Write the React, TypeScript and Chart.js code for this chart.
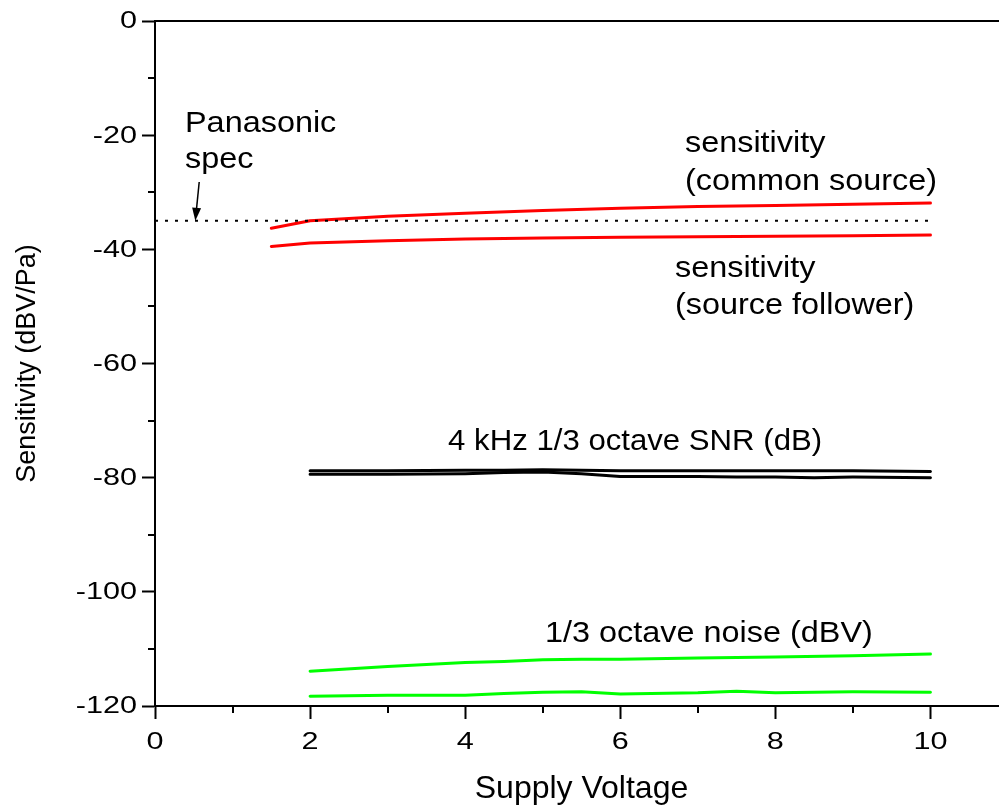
import React, { useEffect, useRef } from "react";
import { Chart, registerables } from "chart.js";

Chart.register(...registerables);

const FONT = "'Liberation Sans', Arial, Helvetica, sans-serif";

const xTitle = "Supply Voltage";
const yTitle = "Sensitivity (dBV/Pa)";

// Sensitivity, common source
const voltsCommonSource = [1.5, 2, 2.5, 3, 4, 5, 6, 7, 8, 9, 10];
const sensCommonSource = [-36.3, -35.0, -34.6, -34.2, -33.7, -33.2, -32.8, -32.5, -32.3, -32.1, -31.9];

// Sensitivity, source follower
const voltsSourceFollower = [1.5, 2, 3, 4, 5, 6, 7, 8, 9, 10];
const sensSourceFollower = [-39.5, -38.9, -38.5, -38.2, -38.0, -37.9, -37.8, -37.7, -37.6, -37.5];

// 4 kHz 1/3 octave SNR (dB)
const voltsSnr = [2, 3, 4, 4.5, 5, 5.5, 6, 7, 7.5, 8, 8.5, 9, 10];
const snrUpper = [-78.8, -78.8, -78.7, -78.7, -78.6, -78.7, -78.8, -78.8, -78.8, -78.8, -78.8, -78.8, -78.9];
const snrLower = [-79.4, -79.4, -79.3, -79.1, -79.0, -79.3, -79.8, -79.8, -79.9, -79.9, -80.0, -79.9, -80.0];

// 1/3 octave noise (dBV)
const voltsNoise = [2, 3, 4, 4.5, 5, 5.5, 6, 7, 7.5, 8, 9, 10];
const noiseUpper = [-113.9, -113.1, -112.4, -112.2, -111.9, -111.8, -111.8, -111.6, -111.5, -111.4, -111.2, -110.9];
const noiseLower = [-118.3, -118.1, -118.1, -117.8, -117.6, -117.5, -117.9, -117.7, -117.4, -117.7, -117.5, -117.6];

// Panasonic spec line
const specVolts = [0, 10];
const specLevel = [-35, -35];

// Minor tick values
const xMinorTicks = [1, 3, 5, 7, 9, 11];
const yMinorTicks = [-10, -30, -50, -70, -90, -110];

// Annotation texts
const annotations = [
  { text: "Panasonic", x: 0.387, y: -19.45 },
  { text: "spec", x: 0.387, y: -25.8 },
  { text: "sensitivity", x: 6.834, y: -22.95 },
  { text: "(common source)", x: 6.834, y: -29.6 },
  { text: "sensitivity", x: 6.705, y: -44.85 },
  { text: "(source follower)", x: 6.705, y: -51.3 },
  { text: "4 kHz 1/3 octave SNR (dB)", x: 3.78, y: -75.2, maxW: 374 },
  { text: "1/3 octave noise (dBV)", x: 5.03, y: -108.8 },
];
const arrowFrom = { x: 0.57, y: -28.2 };
const arrowTo = { x: 0.52, y: -35.0 };

const pts = (xs: number[], ys: number[]) => xs.map((x, i) => ({ x, y: ys[i] }));

const TICK_FONT = `23px ${FONT}`;
const TICK_STRETCH = 1.33;
const NOTE_FONT = `30px ${FONT}`;
const NOTE_STRETCH = 1.08;

const decorPlugin = {
  id: "decor",
  afterDatasetsDraw(chart: any) {
    const { ctx, chartArea: a, scales } = chart;
    const x = scales.x;
    const y = scales.y;
    ctx.save();
    ctx.strokeStyle = "#000";
    ctx.lineWidth = 2;
    ctx.lineCap = "butt";
    ctx.beginPath();
    ctx.moveTo(a.left, a.top);
    ctx.lineTo(a.right, a.top);
    ctx.lineTo(a.right, a.bottom);
    ctx.stroke();
    for (const v of xMinorTicks) {
      const px = Math.round(x.getPixelForValue(v));
      ctx.beginPath();
      ctx.moveTo(px, a.bottom);
      ctx.lineTo(px, a.bottom + 7);
      ctx.stroke();
    }
    for (const v of yMinorTicks) {
      const py = Math.round(y.getPixelForValue(v));
      ctx.beginPath();
      ctx.moveTo(a.left - 7, py);
      ctx.lineTo(a.left, py);
      ctx.stroke();
    }
    // arrow
    const x0 = x.getPixelForValue(arrowFrom.x);
    const y0 = y.getPixelForValue(arrowFrom.y);
    const x1 = x.getPixelForValue(arrowTo.x);
    const y1 = y.getPixelForValue(arrowTo.y);
    const ang = Math.atan2(y1 - y0, x1 - x0);
    const hl = 13;
    const hw = 4.5;
    ctx.lineWidth = 1.5;
    ctx.beginPath();
    ctx.moveTo(x0, y0);
    ctx.lineTo(x1 - Math.cos(ang) * hl * 0.8, y1 - Math.sin(ang) * hl * 0.8);
    ctx.stroke();
    ctx.fillStyle = "#000";
    ctx.beginPath();
    ctx.moveTo(x1, y1);
    ctx.lineTo(x1 - Math.cos(ang) * hl - Math.sin(ang) * hw, y1 - Math.sin(ang) * hl + Math.cos(ang) * hw);
    ctx.lineTo(x1 - Math.cos(ang) * hl + Math.sin(ang) * hw, y1 - Math.sin(ang) * hl - Math.cos(ang) * hw);
    ctx.closePath();
    ctx.fill();

    // annotation texts
    ctx.font = NOTE_FONT;
    ctx.textAlign = "left";
    ctx.textBaseline = "alphabetic";
    for (const an of annotations as any[]) {
      ctx.save();
      ctx.translate(x.getPixelForValue(an.x), y.getPixelForValue(an.y));
      ctx.scale(NOTE_STRETCH, 1);
      if (an.maxW) ctx.fillText(an.text, 0, 0, an.maxW / NOTE_STRETCH);
      else ctx.fillText(an.text, 0, 0);
      ctx.restore();
    }

    // tick labels (wide lettering like the reference)
    ctx.font = TICK_FONT;
    ctx.textAlign = "right";
    ctx.textBaseline = "middle";
    for (const t of y.ticks) {
      ctx.save();
      ctx.translate(a.left - 18, y.getPixelForValue(t.value) + 1);
      ctx.scale(TICK_STRETCH, 1);
      ctx.fillText(t.label, 0, 0);
      ctx.restore();
    }
    ctx.textAlign = "center";
    for (const t of x.ticks) {
      ctx.save();
      ctx.translate(x.getPixelForValue(t.value), a.bottom + 37);
      ctx.scale(TICK_STRETCH, 1);
      ctx.fillText(t.label, 0, 0);
      ctx.restore();
    }
    ctx.restore();
  },
};

export default function App() {
  const ref = useRef<HTMLCanvasElement | null>(null);
  useEffect(() => {
    if (!ref.current) return;
    const line = (data: any, color: string, extra: any = {}) => ({
      data,
      borderColor: color,
      backgroundColor: color,
      borderWidth: 3,
      pointRadius: 0,
      tension: 0,
      fill: false,
      borderCapStyle: "round",
      borderJoinStyle: "round",
      ...extra,
    });
    const chart = new Chart(ref.current, {
      type: "line",
      data: {
        datasets: [
          line(pts(specVolts, specLevel), "#000000", { borderWidth: 2, borderDash: [3, 7], borderCapStyle: "butt" }),
          line(pts(voltsCommonSource, sensCommonSource), "#ff0000"),
          line(pts(voltsSourceFollower, sensSourceFollower), "#ff0000"),
          line(pts(voltsSnr, snrUpper), "#000000"),
          line(pts(voltsSnr, snrLower), "#000000"),
          line(pts(voltsNoise, noiseUpper), "#00ff00"),
          line(pts(voltsNoise, noiseLower), "#00ff00"),
        ],
      },
      options: {
        responsive: false,
        animation: false,
        devicePixelRatio: 1,
        layout: { padding: { top: 21, right: 7, left: 0, bottom: 0 } },
        plugins: { legend: { display: false }, tooltip: { enabled: false } },
        scales: {
          x: {
            type: "linear",
            min: 0,
            max: 11,
            afterFit: (s: any) => {
              s.height = 102;
            },
            ticks: {
              stepSize: 2,
              includeBounds: false,
              color: "rgba(0,0,0,0)",
              font: { family: FONT, size: 22 },
              padding: 10,
              maxRotation: 0,
              autoSkip: false,
            },
            grid: {
              display: true,
              drawOnChartArea: false,
              drawTicks: true,
              tickLength: 13,
              tickWidth: 2,
              tickColor: "#000",
            },
            border: { display: true, color: "#000", width: 2 },
            title: {
              display: true,
              text: xTitle,
              color: "#000",
              font: { family: FONT, size: 32 },
              padding: { top: 0, bottom: 0 },
            },
          },
          y: {
            type: "linear",
            min: -120,
            max: 0,
            afterFit: (s: any) => {
              s.width = 155;
            },
            ticks: {
              stepSize: 20,
              color: "rgba(0,0,0,0)",
              font: { family: FONT, size: 22 },
              padding: 5,
            },
            grid: {
              display: true,
              drawOnChartArea: false,
              drawTicks: true,
              tickLength: 13,
              tickWidth: 2,
              tickColor: "#000",
            },
            border: { display: true, color: "#000", width: 2 },
            title: {
              display: true,
              text: yTitle,
              color: "#000",
              font: { family: FONT, size: 27 },
              padding: { top: 11, bottom: 0 },
            },
          },
        },
      },
      plugins: [decorPlugin],
    } as any);
    return () => chart.destroy();
  }, []);
  return (
    <div
      style={{
        position: "fixed",
        left: 0,
        top: 0,
        width: 999,
        height: 808,
        overflow: "hidden",
        background: "#fff",
      }}
    >
      <canvas ref={ref} width={1015} height={808} style={{ display: "block" }} />
    </div>
  );
}
